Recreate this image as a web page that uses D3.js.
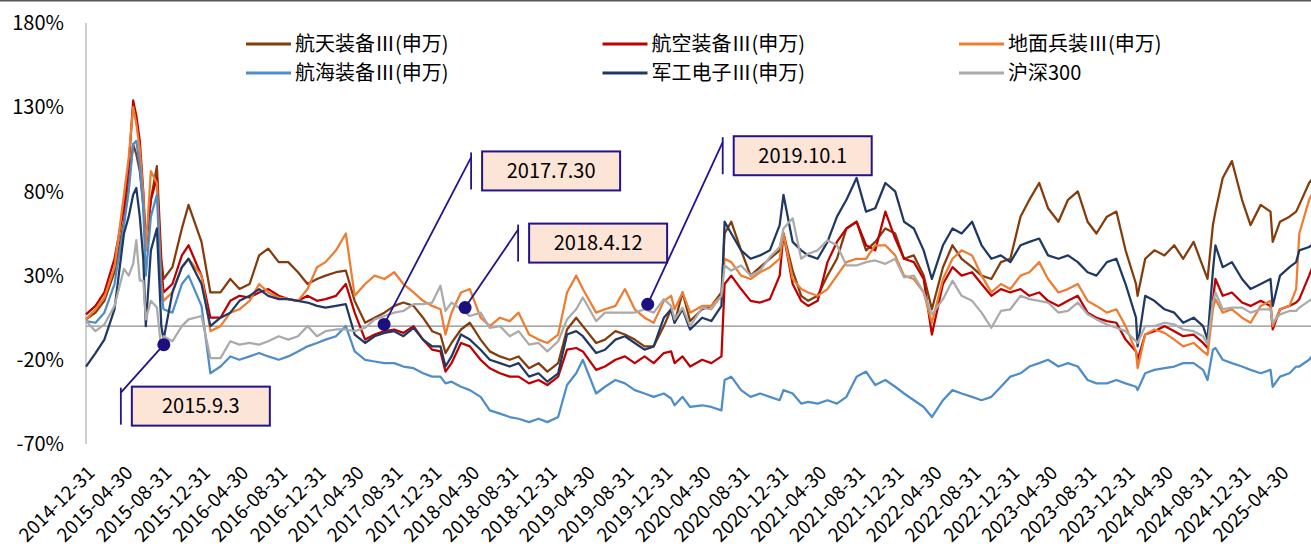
<!DOCTYPE html>
<html>
<head>
<meta charset="utf-8">
<script src="https://cdnjs.cloudflare.com/ajax/libs/d3/7.8.5/d3.min.js"></script>
<style>
  body { margin: 0; background: #fff; }
  svg { display: block; font-family: "Noto Sans CJK SC", "Noto Sans", sans-serif; }
</style>
</head>
<body>
<svg id="chart" width="1311" height="556"></svg>
<script>
// cumulative return (%), one value per date
var dates = [
  "2014-12-31","2015-01-30","2015-02-27","2015-03-31","2015-04-30","2015-05-15","2015-05-29","2015-06-08","2015-06-19","2015-06-30",
  "2015-07-08","2015-07-24","2015-08-12","2015-08-26","2015-09-02","2015-09-30","2015-10-30","2015-11-20","2015-12-31","2016-01-28",
  "2016-02-29","2016-03-31","2016-04-29","2016-05-31","2016-06-30","2016-07-29","2016-08-31","2016-09-30","2016-10-31","2016-11-30",
  "2016-12-30","2017-01-26","2017-02-28","2017-03-31","2017-04-28","2017-05-31","2017-06-30","2017-07-31","2017-08-31","2017-09-29",
  "2017-10-31","2017-11-30","2017-12-29","2018-01-24","2018-02-09","2018-02-28","2018-03-30","2018-04-27","2018-05-31","2018-06-29",
  "2018-07-31","2018-08-31","2018-09-28","2018-10-31","2018-11-30","2018-12-28","2019-01-31","2019-02-28","2019-03-29","2019-04-19",
  "2019-05-31","2019-06-28","2019-07-31","2019-08-30","2019-09-30","2019-10-31","2019-11-29","2019-12-31","2020-01-23","2020-02-03",
  "2020-02-28","2020-03-23","2020-04-30","2020-05-29","2020-06-30","2020-07-10","2020-07-31","2020-08-31","2020-09-30","2020-10-30",
  "2020-11-30","2020-12-31","2021-01-12","2021-02-10","2021-03-09","2021-03-31","2021-04-30","2021-05-31","2021-06-30","2021-07-30",
  "2021-08-31","2021-09-30","2021-10-29","2021-11-30","2021-12-31","2022-01-28","2022-02-28","2022-03-31","2022-04-26","2022-05-31",
  "2022-06-30","2022-07-29","2022-08-31","2022-09-30","2022-10-31","2022-11-30","2022-12-30","2023-01-31","2023-02-28","2023-03-31",
  "2023-04-28","2023-05-31","2023-06-30","2023-07-31","2023-08-31","2023-09-28","2023-10-31","2023-11-30","2023-12-29","2024-01-31",
  "2024-02-05","2024-02-29","2024-03-29","2024-04-30","2024-05-31","2024-06-28","2024-07-31","2024-08-30","2024-09-13","2024-09-30",
  "2024-10-08","2024-10-31","2024-11-29","2024-12-31","2025-01-27","2025-02-28","2025-03-31","2025-04-07","2025-04-30","2025-05-30",
  "2025-06-20","2025-06-30","2025-07-31","2025-08-08"
];

var hangtian = [
  4, 8, 15, 32, 62, 85, 108, 102, 92, 72,
  45, 75, 95, 40, 28, 35, 58, 72, 50, 20,
  20, 28, 22, 25, 42, 46, 38, 38, 32, 25,
  28, 30, 32, 33, 15, 2, 5, 8, 12, 14,
  12, 5, -3, -5, -16, -10, -2, 2, -8, -15,
  -18, -20, -18, -25, -22, -27, -22, -2, 5, 0,
  -10, -8, -3, -5, -8, -12, -12, 0, 10, 2,
  20, 3, 10, 12, 20, 55, 62, 45, 30, 35,
  40, 45, 55, 33, 18, 15, 18, 30, 40, 58,
  62, 45, 50, 58, 55, 40, 42, 30, 10, 35,
  48, 40, 35, 30, 28, 38, 40, 65, 75, 85,
  70, 62, 75, 80, 62, 55, 65, 68, 45, 25,
  18, 40, 45, 42, 48, 40, 50, 35, 28, 60,
  68, 88, 98, 75, 60, 72, 68, 50, 62, 65,
  68, 72, 85, 87
];

var hangkong = [
  7, 12, 20, 40, 70, 95, 134, 125, 110, 80,
  50, 75, 88, 35, 20, 25, 42, 48, 30, 5,
  5, 15, 18, 17, 20, 22, 18, 16, 15, 18,
  15, 16, 18, 25, 8, -8, -5, -3, -2, -4,
  0, -8, -14, -15, -27, -22, -10, -12, -20, -25,
  -28, -30, -30, -34, -32, -35, -30, -14, -13, -15,
  -26, -24, -20, -18, -22, -18, -22, -16, -15, -22,
  -18, -24, -20, -22, -18, 25, 30, 22, 15, 14,
  16, 30, 55, 25, 15, 12, 15, 38, 50, 58,
  62, 48, 45, 68, 52, 40, 38, 28, -5, 25,
  35, 30, 32, 25, 18, 22, 20, 22, 18, 20,
  15, 12, 15, 18, 8, 5, 3, 2, -8, -15,
  -20, -5, -3, 0, -3, -6, -5, -10, -13, 15,
  28, 18, 20, 14, 12, 15, 12, -2, 10, 12,
  14, 16, 30, 34
];

var dimian = [
  4, 10, 17, 35, 78, 100, 130, 120, 105, 78,
  45, 92, 85, 25, 15, 20, 35, 40, 30, -3,
  0, 8, 10, 15, 25, 20, 17, 16, 15, 22,
  35, 38, 45, 55, 18, 25, 30, 28, 32, 25,
  20, 15, 12, 10, -5, 8, 20, 22, 5, 0,
  5, 3, 8, -5, -8, -10, -5, 20, 30, 22,
  8, 10, 12, 22, 10, 5, 2, 15, 18, 10,
  20, 8, 12, 12, 18, 40, 38, 30, 28, 32,
  35, 40, 55, 28, 22, 20, 18, 22, 30, 38,
  40, 40, 48, 48, 42, 30, 28, 20, 2, 28,
  40, 45, 42, 30, 20, 25, 22, 30, 32, 38,
  28, 20, 22, 25, 15, 12, 8, 10, 0, -15,
  -25, -5, -2, -4, -8, -12, -10, -15, -17, 10,
  16, 8, 10, 5, 2, 12, 15, 0, 10, 12,
  22, 55, 75, 78
];

var hanghai = [
  3, 2, 8, 25, 60, 80, 108, 110, 95, 70,
  30, 65, 78, 20, 10, 8, 25, 30, 12, -28,
  -24, -18, -20, -18, -16, -18, -20, -18, -15, -12,
  -10, -8, -6, 0, -15, -20, -21, -22, -22, -24,
  -25, -28, -30, -30, -34, -33, -36, -38, -42, -50,
  -52, -54, -55, -57, -55, -57, -54, -35, -28, -20,
  -40, -36, -32, -34, -38, -40, -42, -40, -43, -47,
  -42, -48, -47, -48, -50, -32, -30, -38, -42, -40,
  -42, -44, -38, -40, -46, -45, -46, -44, -46, -42,
  -30, -27, -35, -32, -36, -40, -44, -48, -54, -44,
  -38, -40, -42, -44, -42, -36, -30, -28, -24, -22,
  -20, -24, -22, -24, -32, -34, -34, -32, -34, -36,
  -38, -28, -26, -25, -24, -22, -22, -26, -32, -14,
  -13, -20, -22, -24, -26, -28, -26, -36, -30, -28,
  -24, -24, -20, -18
];

var jungong = [
  -24, -16, -8, 10, 55, 65, 78, 82, 65, 40,
  0, 45, 58, 0, -8, 20, 35, 40, 25, 0,
  5, 8, 15, 18, 22, 18, 16, 16, 15, 14,
  12, 11, 12, 13, -5, -10, -6, -4, -3, -6,
  -1, -8, -12, -12, -24, -18, -5, -8, -14, -20,
  -22, -24, -22, -30, -28, -33, -28, -5, -3, -6,
  -16, -14, -8, -6, -10, -14, -12, 5, 10, 2,
  10, -2, 5, 3, 12, 62, 55, 45, 40, 42,
  45, 60, 78, 50, 45, 42, 40, 50, 65, 75,
  88, 68, 70, 85, 80, 62, 58, 45, 28, 48,
  58, 55, 62, 48, 40, 42, 38, 48, 50, 52,
  42, 40, 42, 38, 32, 30, 38, 40, 25, 5,
  -12, 18, 15, 10, 8, 2, 5, 0, -8, 33,
  48, 35, 38, 28, 22, 25, 28, 12, 30, 35,
  38, 45, 47, 48
];

var hs300 = [
  3, -3, 1, 12, 34, 30, 37, 51, 27, 27,
  4, 15, 11, -14, -6, -9, 0, 4, 6, -19,
  -19, -9, -11, -10, -11, -9, -6, -8, -6, 0,
  -6, -3, -2, -2, -3, -1, 4, 6, 8, 9,
  13, 13, 14, 24, 9, 14, 10, 6, 8, -1,
  0, -6, -3, -11, -10, -15, -9, 4, 10, 17,
  3, 8, 8, 8, 8, 10, 8, 16, 12, 4,
  11, 0, 11, 10, 18, 36, 33, 36, 30, 33,
  41, 47, 58, 64, 40, 43, 45, 51, 48, 36,
  36, 38, 39, 37, 40, 29, 30, 20, 7, 16,
  27, 18, 15, 8, -1, 9, 10, 18, 16, 15,
  14, 8, 9, 14, 7, 4, 1, -1, -3, -9,
  -10, 0, 0, 2, 1, -2, -3, -6, -11, 14,
  20, 10, 11, 11, 8, 10, 10, 2, 7, 9,
  9, 11, 15, 16
];

var seriesNames = ["航天装备Ⅲ(申万)", "航空装备Ⅲ(申万)", "地面兵装Ⅲ(申万)", "航海装备Ⅲ(申万)", "军工电子Ⅲ(申万)", "沪深300"];
var seriesValues = [hangtian, hangkong, dimian, hanghai, jungong, hs300];

var xTickLabels = [
  "2014-12-31","2015-04-30","2015-08-31","2015-12-31","2016-04-30","2016-08-31","2016-12-31","2017-04-30",
  "2017-08-31","2017-12-31","2018-04-30","2018-08-31","2018-12-31","2019-04-30","2019-08-31","2019-12-31",
  "2020-04-30","2020-08-31","2020-12-31","2021-04-30","2021-08-31","2021-12-31","2022-04-30","2022-08-31",
  "2022-12-31","2023-04-30","2023-08-31","2023-12-31","2024-04-30","2024-08-31","2024-12-31","2025-04-30"
];
var yTicks = [-70, -20, 30, 80, 130, 180];

var calloutLabels = ["2015.9.3", "2017.7.30", "2018.4.12", "2019.10.1"];
var calloutDates = ["2015-09-03", "2017-07-30", "2018-04-12", "2019-11-10"];
var calloutValues = [-11, 1, 11, 13];

// ---- layout / style ----
var WIDTH = 1311, HEIGHT = 556;
var COLORS = ["#843C0C", "#C00000", "#ED7D31", "#4F8DC9", "#1F3864", "#AAAAAA"];
var CALLOUT_COLOR = "#23148A";
// leader offsets from the marker, in px: shoulder x, box top y
var CALLOUT_LAYOUT = [
  { dx: -43, dy: 42 },
  { dx: 87, dy: -173 },
  { dx: 53, dy: -84 },
  { dx: 75, dy: -168 }
];
var BOX_GAP = 11, BOX_W = 138, BOX_H = 39;

var parse = d3.utcParse("%Y-%m-%d");

var x = d3.scaleUtc()
    .domain([parse("2014-12-31"), parse("2025-04-30")])
    .range([86, 1280]);

var y = d3.scaleLinear()
    .domain([-70, 180])
    .range([444, 23]);

var svg = d3.select("#chart");

svg.append("rect")
    .attr("width", WIDTH).attr("height", HEIGHT)
    .attr("fill", "#fff");

// thin border at the top edge of the picture
svg.append("line")
    .attr("x1", 0).attr("x2", WIDTH)
    .attr("y1", 0.75).attr("y2", 0.75)
    .attr("stroke", "#555").attr("stroke-width", 1.5);

// y axis
svg.append("line")
    .attr("x1", 86).attr("x2", 86)
    .attr("y1", y(180)).attr("y2", y(-70))
    .attr("stroke", "#BFBFBF").attr("stroke-width", 1.5);

svg.append("g").selectAll("text")
    .data(yTicks)
    .enter().append("text")
    .attr("x", 64)
    .attr("y", function(d) { return y(d); })
    .attr("dy", "0.36em")
    .attr("text-anchor", "end")
    .attr("font-size", 20)
    .attr("fill", "#000")
    .text(function(d) { return d + "%"; });

// zero line (category axis)
svg.append("line")
    .attr("x1", 86).attr("x2", WIDTH)
    .attr("y1", y(0)).attr("y2", y(0))
    .attr("stroke", "#8C8C8C").attr("stroke-width", 1.3);

// x labels, rotated
svg.append("g").selectAll("text")
    .data(xTickLabels)
    .enter().append("text")
    .attr("transform", function(d) {
        return "translate(" + (x(parse(d)) + 10) + ",474) rotate(-45)";
    })
    .attr("text-anchor", "end")
    .attr("font-size", 19)
    .attr("fill", "#000")
    .text(function(d) { return d; });

// series
var line = d3.line()
    .x(function(d) { return x(d.date); })
    .y(function(d) { return y(d.value); });

var series = seriesValues.map(function(vals) {
    return dates.map(function(d, i) {
        return { date: parse(d), value: vals[i] };
    }).filter(function(p) { return p.value != null; });
});

svg.append("g").selectAll("path")
    .data(series)
    .enter().append("path")
    .attr("d", line)
    .attr("fill", "none")
    .attr("stroke", function(d, i) { return COLORS[i]; })
    .attr("stroke-width", 2.25)
    .attr("stroke-linejoin", "round");

// legend, two rows of three
var legend = svg.append("g").selectAll("g")
    .data(seriesNames)
    .enter().append("g")
    .attr("transform", function(d, i) {
        return "translate(" + (246 + (i % 3) * 356.5) + "," + (44 + Math.floor(i / 3) * 29) + ")";
    });

legend.append("line")
    .attr("x1", 0).attr("x2", 45)
    .attr("stroke", function(d, i) { return COLORS[i]; })
    .attr("stroke-width", 3);

legend.append("text")
    .attr("x", 49)
    .attr("dy", "0.36em")
    .attr("font-size", 20)
    .attr("fill", "#000")
    .text(function(d) { return d; });

// callouts
var callouts = calloutLabels.map(function(label, i) {
    var px = x(parse(calloutDates[i])), py = y(calloutValues[i]);
    var lay = CALLOUT_LAYOUT[i];
    return { label: label, px: px, py: py, sx: px + lay.dx, top: py + lay.dy };
});

var cg = svg.append("g").selectAll("g")
    .data(callouts)
    .enter().append("g");

cg.append("line")
    .attr("x1", function(d) { return d.px; })
    .attr("y1", function(d) { return d.py; })
    .attr("x2", function(d) { return d.sx; })
    .attr("y2", function(d) { return d.top + 6; })
    .attr("stroke", CALLOUT_COLOR).attr("stroke-width", 1.8);

cg.append("line")
    .attr("x1", function(d) { return d.sx; })
    .attr("x2", function(d) { return d.sx; })
    .attr("y1", function(d) { return d.top + 1; })
    .attr("y2", function(d) { return d.top + BOX_H - 1; })
    .attr("stroke", CALLOUT_COLOR).attr("stroke-width", 1.8);

cg.append("circle")
    .attr("cx", function(d) { return d.px; })
    .attr("cy", function(d) { return d.py; })
    .attr("r", 6.5)
    .attr("fill", "#1C0F7E");

cg.append("rect")
    .attr("x", function(d) { return d.sx + BOX_GAP; })
    .attr("y", function(d) { return d.top; })
    .attr("width", BOX_W).attr("height", BOX_H)
    .attr("fill", "#FCE4D6")
    .attr("stroke", CALLOUT_COLOR).attr("stroke-width", 2);

cg.append("text")
    .attr("x", function(d) { return d.sx + BOX_GAP + BOX_W / 2; })
    .attr("y", function(d) { return d.top + BOX_H / 2; })
    .attr("dy", "0.36em")
    .attr("text-anchor", "middle")
    .attr("font-size", 20)
    .attr("fill", "#000")
    .text(function(d) { return d.label; });
</script>
</body>
</html>
